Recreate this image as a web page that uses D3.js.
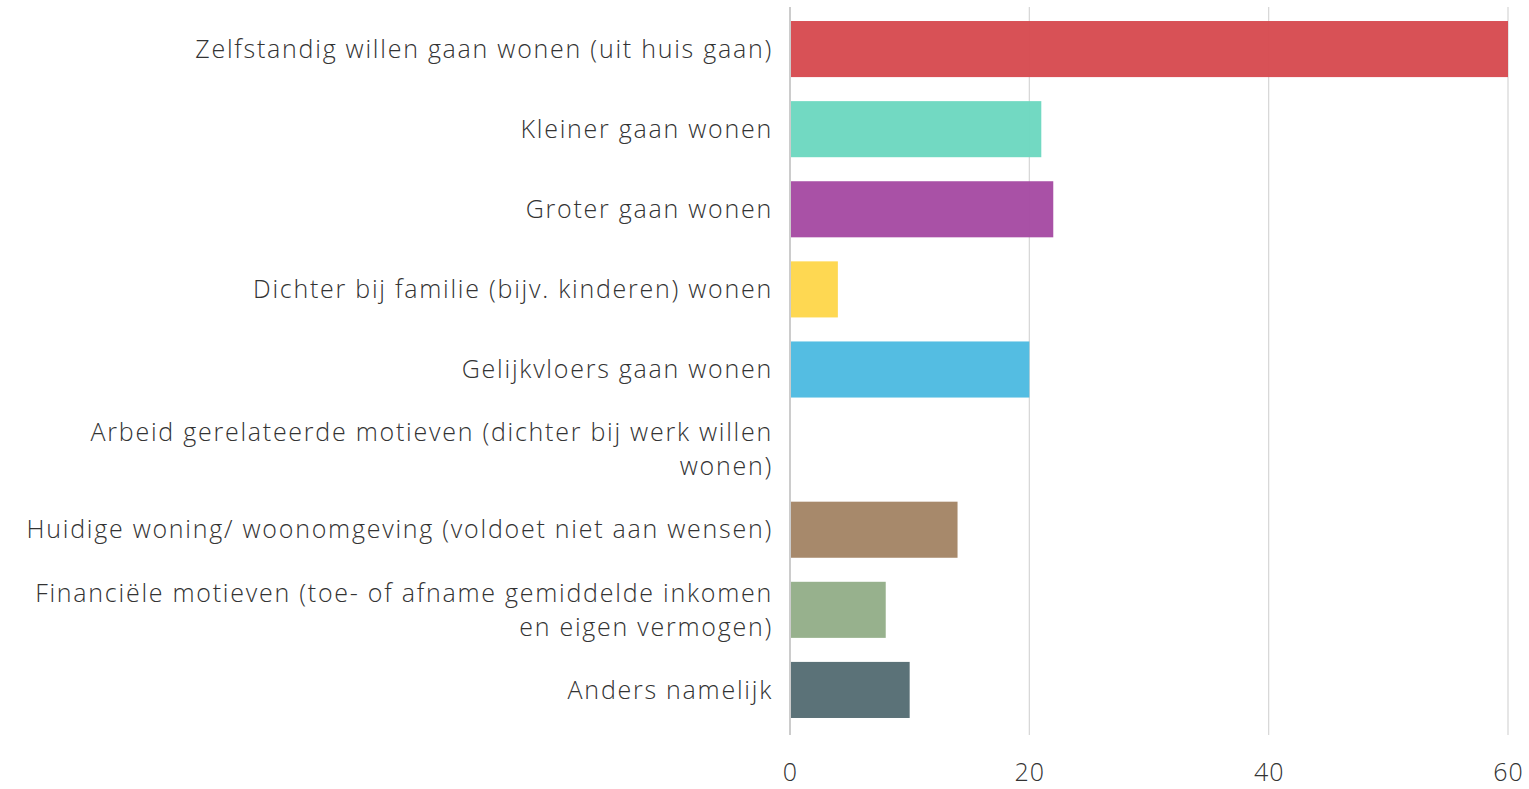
<!DOCTYPE html>
<html>
<head>
<meta charset="utf-8">
<script src="https://cdn.jsdelivr.net/npm/d3@7"></script>
<style>
  body { margin: 0; background: #fff; }
  text { font-family: "Open Sans", sans-serif; font-weight: 300; fill: #333; }
</style>
</head>
<body>
<script>
var categories = [
  "Zelfstandig willen gaan wonen (uit huis gaan)",
  "Kleiner gaan wonen",
  "Groter gaan wonen",
  "Dichter bij familie (bijv. kinderen) wonen",
  "Gelijkvloers gaan wonen",
  "Arbeid gerelateerde motieven (dichter bij werk willen wonen)",
  "Huidige woning/ woonomgeving (voldoet niet aan wensen)",
  "Financiële motieven (toe- of afname gemiddelde inkomen en eigen vermogen)",
  "Anders namelijk"
];
var values = [60, 21, 22, 4, 20, 0, 14, 8, 10];
var colors = ["#d64a4f", "#6cd7c0", "#a54aa2", "#fed64b", "#4dbae1", "#bbbbbb", "#a38465", "#93ae88", "#546c72"];
var xTicks = [0, 20, 40, 60];

var svgWidth = 1529;
var svgHeight = 789;
var margin = { top: 9, right: 21, bottom: 58, left: 790 };

var width = svgWidth - margin.left - margin.right;
var height = svgHeight - margin.top - margin.bottom;

var svg = d3.select("body")
  .append("svg")
  .attr("width", svgWidth)
  .attr("height", svgHeight)
  .append("g")
  .attr("transform", "translate(" + margin.left + "," + margin.top + ")");

var xScale = d3.scaleLinear().domain([0, 60]).range([0, width]);
var yScale = d3.scaleBand().domain(categories).range([0, height - 1])
  .paddingInner(0.3).paddingOuter(0.15);

// gridlines
svg.append("g")
  .selectAll("line")
  .data(xTicks)
  .enter()
  .append("line")
  .attr("x1", function(d) { return xScale(d); })
  .attr("x2", function(d) { return xScale(d); })
  .attr("y1", -2)
  .attr("y2", height + 4)
  .attr("stroke", function(d) { return d === 0 ? "#aaa" : "#d6d6d6"; })
  .attr("stroke-width", 1.2);

// bars
svg.append("g")
  .selectAll("rect")
  .data(values)
  .enter()
  .append("rect")
  .attr("x", xScale(0) + 1)
  .attr("y", function(d, i) { return yScale(categories[i]); })
  .attr("width", function(d) { return Math.max(0, xScale(d) - xScale(0) - 1); })
  .attr("height", yScale.bandwidth())
  .attr("fill", function(d, i) { return colors[i]; })
  .attr("opacity", 0.96);

// category labels, wrapped
var maxLabelWidth = 770;
var labels = svg.append("g")
  .selectAll("text")
  .data(categories)
  .enter()
  .append("text")
  .attr("x", -17)
  .attr("text-anchor", "end")
  .style("font-size", "25px")
  .style("letter-spacing", "1.75px");

labels.each(function(label) {
  var t = d3.select(this);
  var words = label.split(" ");
  var lines = [];
  var line = [];
  var probe = t.append("tspan");
  words.forEach(function(w) {
    line.push(w);
    probe.text(line.join(" "));
    if (probe.node().getComputedTextLength() > maxLabelWidth && line.length > 1) {
      line.pop();
      lines.push(line.join(" "));
      line = [w];
    }
  });
  lines.push(line.join(" "));
  probe.remove();
  var cy = yScale(label) + yScale.bandwidth() / 2;
  var lh = 34;
  lines.forEach(function(l, k) {
    t.append("tspan")
      .attr("x", -17)
      .attr("y", cy + (k - (lines.length - 1) / 2) * lh)
      .attr("dy", "0.35em")
      .text(l);
  });
});

// x axis tick labels
var bottomAxis = d3.axisBottom(xScale).tickValues(xTicks).tickSize(0).tickPadding(32);
var xAxis = svg.append("g")
  .attr("transform", "translate(0," + height + ")")
  .call(bottomAxis);
xAxis.select(".domain").remove();
xAxis.selectAll("text")
  .style("font-size", "25px")
  .style("letter-spacing", "1px")
  .style("font-family", "'Open Sans', sans-serif")
  .style("font-weight", 300)
  .attr("fill", "#333");
</script>
</body>
</html>
